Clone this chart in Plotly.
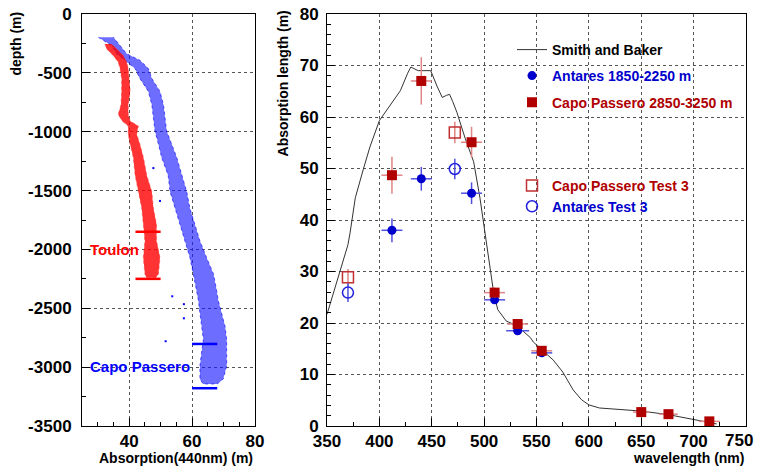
import plotly.graph_objects as go

FONT = "Liberation Sans, Arial, Helvetica, sans-serif"

# ---- left panel: absorption (440 nm) vs depth, edges of the point clouds ----
toulon_depth = [-254, -296, -352, -407, -463, -547, -658, -770, -854, -910, -951, -1021,
                -1105, -1217, -1371, -1510, -1650, -1789, -1929, -2068, -2208, -2240]
toulon_lo = [32.3, 32.8, 34.9, 36.5, 37.1, 37.6, 37.6, 37.4, 36.5, 37.8, 39.7, 39.7,
             40.3, 41.3, 41.9, 42.9, 44.0, 44.5, 45.0, 44.5, 45.0, 45.5]
toulon_hi = [34.4, 36.0, 38.1, 39.2, 39.7, 40.0, 40.3, 39.7, 39.7, 40.3, 42.9, 42.4,
             43.4, 44.5, 45.6, 47.2, 47.7, 48.7, 48.7, 49.8, 49.3, 48.5]
toulon_bar_depth = [-1850, -2250]
toulon_bar_x = [42, 50]

capo_depth = [-198, -268, -338, -393, -463, -547, -658, -770, -882, -993, -1105, -1217,
              -1371, -1510, -1650, -1789, -1929, -2068, -2208, -2347, -2432, -2543,
              -2655, -2766, -2878, -2990, -3101, -3143]
capo_lo = [30.2, 34.4, 36.0, 38.7, 41.9, 43.4, 46.1, 47.2, 47.7, 48.2, 49.3, 50.3,
           52.4, 53.0, 54.6, 56.2, 57.8, 59.3, 60.4, 61.5, 62.0, 62.5,
           63.0, 63.6, 63.0, 62.5, 62.5, 63.5]
capo_hi = [35.0, 37.1, 39.2, 43.4, 46.1, 47.2, 49.8, 50.9, 51.4, 51.9, 53.5, 55.1,
           56.7, 58.3, 59.3, 60.9, 62.5, 64.6, 66.8, 67.8, 68.3, 69.4,
           70.5, 71.0, 71.0, 71.0, 69.9, 68.0]
capo_stray_depth = [-1309, -1588, -2398, -2465, -2585, -2780]
capo_stray_x = [47.7, 49.8, 53.7, 57.4, 57.4, 51.6]
capo_bar_depth = [-2803, -3179]
capo_bar_x = [60, 68]

depth_ticks = [0, -500, -1000, -1500, -2000, -2500, -3000, -3500]
depth_labels = ["0", "-500", "-1000", "-1500", "-2000", "-2500", "-3000", "-3500"]

# ---- right panel: absorption length vs wavelength ----
wl_ticks = [350, 400, 450, 500, 550, 600, 650, 700, 750]

sb_wl = [350, 355, 360, 365, 370, 372, 377, 385, 391, 400, 412, 420, 427, 430, 437, 449,
         455, 460, 464, 467, 470, 474, 482, 490, 496, 502, 506, 509, 513, 521, 531, 544,
         547, 555, 566, 575, 585, 593, 600, 610, 630, 650, 676, 700, 714, 722]
sb_len = [21.7, 25.0, 28.5, 32.0, 35.2, 37.5, 44.3, 50.1, 54.2, 59.3, 62.8, 65.1, 68.5, 69.7,
          69.0, 69.0, 66.0, 63.8, 64.2, 64.4, 63.0, 60.9, 55.8, 51.3, 44.3, 35.7, 29.7, 26.0,
          22.6, 20.4, 19.5, 17.2, 16.3, 14.8, 12.8, 10.5, 7.0, 5.1, 4.1, 3.5, 3.2, 2.9, 2.2,
          1.3, 0.7, 0.4]

ant_wl = [412, 440, 488, 510, 532, 555]
ant_len = [38.0, 48.0, 45.2, 24.5, 18.5, 14.2]
ant_err = [2.3, 2.3, 2.1, 0.8, 0.8, 0.6]
ant_werr = [10, 10, 10, 10, 11, 10]

cp_wl = [412, 440, 488, 510, 532, 555, 650, 676, 715]
cp_len = [48.7, 67.0, 55.1, 25.9, 19.8, 14.6, 2.7, 2.3, 0.9]
cp_err = [3.6, 4.6, 3.0, 1.0, 0.8, 0.6, 0.4, 0.3, 0.3]
cp_werr = [10, 10, 10, 10, 10, 10, 8, 9, 10]

cpt3_wl = [370, 472]
cpt3_len = [28.9, 57.0]
cpt3_err = [1.6, 2.1]

antt3_wl = [370, 472]
antt3_len = [25.9, 49.9]
antt3_err = [1.8, 2.0]


def bars(depths, xr):
    xs, ys = [], []
    for d in depths:
        xs += [xr[0], xr[1], None]
        ys += [d, d, None]
    return xs, ys


fig = go.Figure()

# left panel clouds
fig.add_trace(go.Scatter(x=capo_lo + capo_hi[::-1], y=capo_depth + capo_depth[::-1],
                         fill="toself", fillcolor="rgba(20,20,255,0.62)",
                         line=dict(color="rgba(0,0,255,0.6)", width=1, dash="dot"),
                         mode="lines", showlegend=False, xaxis="x", yaxis="y"))
fig.add_trace(go.Scatter(x=capo_stray_x, y=capo_stray_depth, mode="markers",
                         marker=dict(color="blue", size=2, symbol="square"),
                         showlegend=False, xaxis="x", yaxis="y"))
fig.add_trace(go.Scatter(x=toulon_lo + toulon_hi[::-1], y=toulon_depth + toulon_depth[::-1],
                         fill="toself", fillcolor="rgba(255,0,0,0.8)",
                         line=dict(color="rgba(255,60,60,0.6)", width=1, dash="dot"),
                         mode="lines", showlegend=False, xaxis="x", yaxis="y"))
bx, by = bars(toulon_bar_depth, toulon_bar_x)
fig.add_trace(go.Scatter(x=bx, y=by, mode="lines", line=dict(color="red", width=2.5),
                         showlegend=False, xaxis="x", yaxis="y"))
bx, by = bars(capo_bar_depth, capo_bar_x)
fig.add_trace(go.Scatter(x=bx, y=by, mode="lines", line=dict(color="blue", width=2.5),
                         showlegend=False, xaxis="x", yaxis="y"))

# right panel
fig.add_trace(go.Scatter(x=sb_wl, y=sb_len, mode="lines", name="Smith and Baker",
                         line=dict(color="#333333", width=1), legend="legend",
                         xaxis="x2", yaxis="y2"))
fig.add_trace(go.Scatter(x=ant_wl, y=ant_len, mode="markers", name="Antares 1850-2250 m",
                         marker=dict(color="#0000cc", size=9, symbol="circle"),
                         error_y=dict(type="data", array=ant_err, color="#5050e0", width=0, thickness=1.5),
                         error_x=dict(type="data", array=ant_werr, color="#5050e0", width=0, thickness=1.5),
                         legend="legend2", xaxis="x2", yaxis="y2"))
fig.add_trace(go.Scatter(x=cp_wl, y=cp_len, mode="markers", name="Capo Passero 2850-3250 m",
                         marker=dict(color="#b00000", size=10, symbol="square"),
                         error_y=dict(type="data", array=cp_err, color="#e08585", width=0, thickness=1.5),
                         error_x=dict(type="data", array=cp_werr, color="#e08585", width=0, thickness=1.5),
                         legend="legend3", xaxis="x2", yaxis="y2"))
fig.add_trace(go.Scatter(x=cpt3_wl, y=cpt3_len, mode="markers", name="Capo Passero Test 3",
                         marker=dict(color="#c03030", size=11, symbol="square-open", line=dict(width=1.5)),
                         error_y=dict(type="data", array=cpt3_err, color="#e08585", width=0, thickness=1.5),
                         legend="legend4", xaxis="x2", yaxis="y2"))
fig.add_trace(go.Scatter(x=antt3_wl, y=antt3_len, mode="markers", name="Antares Test 3",
                         marker=dict(color="#2020dd", size=11, symbol="circle-open", line=dict(width=1.5)),
                         error_y=dict(type="data", array=antt3_err, color="#5050e0", width=0, thickness=1.5),
                         legend="legend5", xaxis="x2", yaxis="y2"))

tickfont = dict(family=FONT, size=17, color="black", weight="bold")
grid = dict(showgrid=True, gridcolor="#555555", griddash="dot", gridwidth=1)
frame = dict(showline=True, linecolor="black", linewidth=1, mirror=True, zeroline=False,
             ticks="inside", ticklen=8, tickcolor="black", tickfont=tickfont,
             automargin=False, ticklabeloverflow="allow")


def legend_at(y, color):
    return dict(x=0.6476, y=y, xanchor="left", yanchor="middle", bgcolor="rgba(0,0,0,0)",
                itemwidth=30, font=dict(family=FONT, size=14, color=color, weight="bold"))


# the page body adds an 8px margin and clips at its content width,
# so the figure is drawn smaller and shifted to land where the reference is
fig.update_layout(
    width=747, height=460,
    margin=dict(l=74, r=9, t=6, b=42, autoexpand=False),
    paper_bgcolor="white", plot_bgcolor="white",
    xaxis=dict(domain=[0, 0.2605], range=[25, 80], tickvals=[40, 60, 80], anchor="y",
               minor=dict(dtick=5, tick0=0, ticks="inside", ticklen=4, tickcolor="black"),
               **grid, **frame),
    yaxis=dict(range=[-3500, 0], tickvals=depth_ticks, ticktext=depth_labels, anchor="x",
               minor=dict(tickmode="linear", dtick=250, tick0=0, ticks="inside", ticklen=4,
                          tickcolor="black"),
               ticklabelstandoff=6, **grid, **frame),
    # last wavelength label is drawn as an annotation so it is not cut at the page edge
    xaxis2=dict(domain=[0.369, 1], range=[350, 750], tickvals=wl_ticks,
                ticktext=[str(v) for v in wl_ticks[:-1]] + [""], anchor="y2",
                minor=dict(dtick=25, tick0=0, ticks="inside", ticklen=4, tickcolor="black"),
                **grid, **frame),
    yaxis2=dict(range=[0, 80], dtick=10, anchor="x2",
                minor=dict(dtick=2, tick0=0, ticks="inside", ticklen=4, tickcolor="black"),
                ticklabelstandoff=4, **grid, **frame),
    legend=legend_at(0.9126, "black"),
    legend2=legend_at(0.8495, "#0000cc"),
    legend3=legend_at(0.7847, "#b00000"),
    legend4=legend_at(0.5825, "#b00000"),
    legend5=legend_at(0.5323, "#0000cc"),
)

fig.add_annotation(text=str(wl_ticks[-1]), xref="paper", yref="paper", x=1.0135, y=-0.008,
                   xanchor="right", yanchor="top", showarrow=False, font=tickfont)

titlefont = dict(family=FONT, size=14, color="black", weight="bold")
fig.add_annotation(text="depth (m)", textangle=-90, xref="paper", yref="paper",
                   x=-0.1, y=1.0097, xanchor="center", yanchor="top", showarrow=False,
                   font=titlefont)
fig.add_annotation(text="Absorption length (m)", textangle=-90, xref="paper", yref="paper",
                   x=0.303, y=1.014, xanchor="center", yanchor="top", showarrow=False,
                   font=titlefont)
fig.add_annotation(text="Absorption(440nm) (m)", xref="paper", yref="paper",
                   x=0.2605, y=-0.0777, xanchor="right", yanchor="middle", showarrow=False,
                   font=titlefont)
fig.add_annotation(text="wavelength (nm)", xref="paper", yref="paper",
                   x=1.0, y=-0.0777, xanchor="right", yanchor="middle", showarrow=False,
                   font=titlefont)

labelfont = dict(family=FONT, size=15, weight="bold")
fig.add_annotation(text="Toulon", x=27, y=-2004, xref="x", yref="y", xanchor="left",
                   yanchor="middle", showarrow=False, font=dict(color="red", **labelfont))
fig.add_annotation(text="Capo Passero", x=27, y=-2998, xref="x", yref="y", xanchor="left",
                   yanchor="middle", showarrow=False, font=dict(color="blue", **labelfont))

fig.write_html("out.html")
